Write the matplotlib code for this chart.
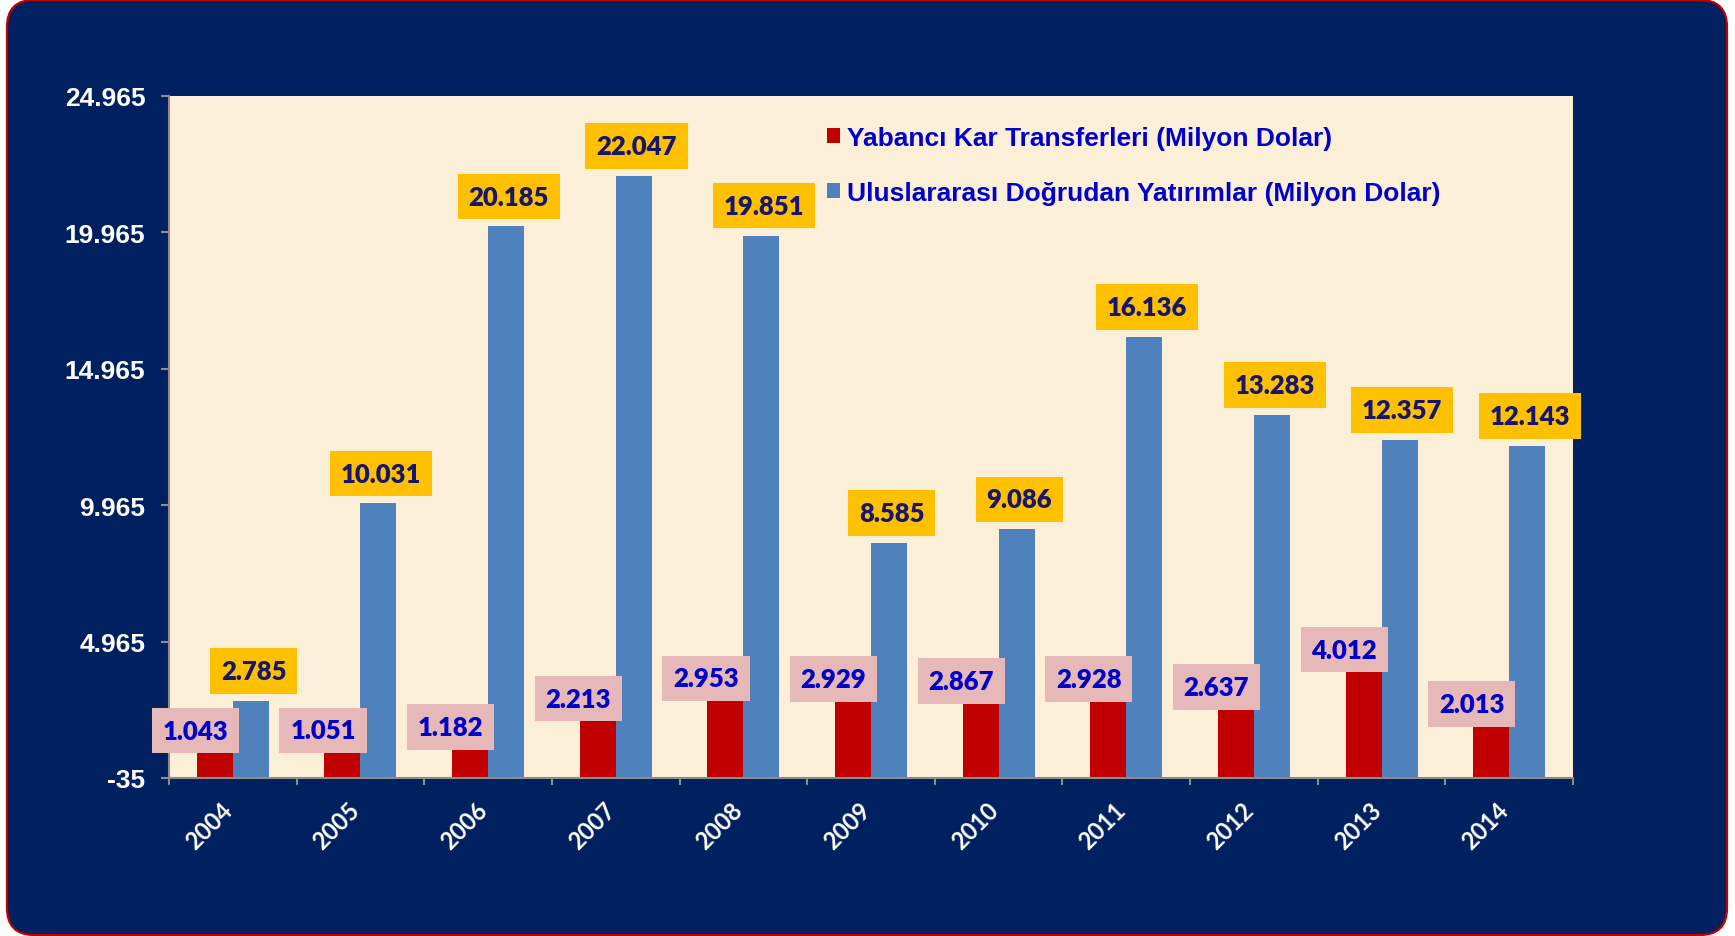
import matplotlib.pyplot as plt
import numpy as np
from matplotlib.patches import FancyBboxPatch, Patch
from matplotlib.ticker import FixedLocator

years = ["2004", "2005", "2006", "2007", "2008", "2009", "2010", "2011", "2012", "2013", "2014"]
kar_transfer = [1043, 1051, 1182, 2213, 2953, 2929, 2867, 2928, 2637, 4012, 2013]
dogrudan_yatirim = [2785, 10031, 20185, 22047, 19851, 8585, 9086, 16136, 13283, 12357, 12143]
y_ticks = [-35, 4965, 9965, 14965, 19965, 24965]
series_names = ["Yabancı Kar Transferleri (Milyon Dolar)",
                "Uluslararası Doğrudan Yatırımlar (Milyon Dolar)"]

NAVY = "#002060"
RED = "#C00000"
BLUE = "#4F81BD"
GOLD = "#FFC000"
PINK = "#E6B9B8"


def tr_fmt(v):
    return f"{v:,}".replace(",", ".")


fig = plt.figure(figsize=(17.35, 9.37), dpi=100)
fig.patch.set_facecolor("white")
# rounded dark blue card with red rim
card = FancyBboxPatch((0.07, 0.01), 17.2, 9.35,
                      boxstyle="round,pad=0,rounding_size=0.27",
                      transform=fig.dpi_scale_trans,
                      facecolor=NAVY, edgecolor=RED, linewidth=1.6, zorder=-5)
fig.patches.append(card)

ax = fig.add_axes([169 / 1735, 1 - 779 / 937, (1573 - 169) / 1735, (779 - 97) / 937])
ax.set_zorder(1)
ax.set_facecolor("#FCEFD8")

x = np.arange(len(years))
w = 0.282
ax.bar(x - w / 2, kar_transfer, w, color=RED, zorder=2)
ax.bar(x + w / 2, dogrudan_yatirim, w, color=BLUE, zorder=2)

ax.set_xlim(-0.5, len(years) - 0.5)
ax.set_ylim(y_ticks[0], y_ticks[-1])

for xi, v in zip(x, dogrudan_yatirim):
    ax.annotate(tr_fmt(v), (xi + w / 2, v), xytext=(2, 21.5), textcoords="offset points",
                ha="center", va="center", fontsize=18.5, fontweight="heavy",
                family="Lato", color="#16166B", zorder=5,
                bbox=dict(boxstyle="square,pad=0.42", facecolor=GOLD, edgecolor="none"))

for xi, v in zip(x, kar_transfer):
    ax.annotate(tr_fmt(v), (xi - w / 2, v), xytext=(-14, 13), textcoords="offset points",
                ha="center", va="center", fontsize=18.5, fontweight="heavy",
                family="Lato", color="#0000CC", zorder=5,
                bbox=dict(boxstyle="square,pad=0.42", facecolor=PINK, edgecolor="none"))

# axes styling
for side in ["top", "right"]:
    ax.spines[side].set_visible(False)
for side in ["left", "bottom"]:
    ax.spines[side].set_color("#8C8C8C")
    ax.spines[side].set_linewidth(1.5)

ax.set_yticks(y_ticks)
ax.set_yticklabels([tr_fmt(t) for t in y_ticks], family="Liberation Sans",
                   fontweight="bold", fontsize=19, color="white")
ax.tick_params(axis="y", direction="out", length=6, width=1.5, color="#8C8C8C", pad=11)

ax.xaxis.set_major_locator(FixedLocator(np.arange(-0.5, len(years))))
ax.xaxis.set_minor_locator(FixedLocator(x + 0.03))
ax.set_xticklabels([], minor=False)
ax.set_xticklabels(years, minor=True, rotation=45, ha="right", va="top",
                   family="Lato", fontweight="bold", fontsize=17, color="white")
ax.tick_params(axis="x", which="major", direction="out", length=5, width=1.5, color="#8C8C8C")
ax.tick_params(axis="x", which="minor", length=0, pad=14)

handles = [Patch(facecolor=RED, edgecolor="none"), Patch(facecolor=BLUE, edgecolor="none")]
leg = ax.legend(handles, series_names, loc="upper left",
                bbox_to_anchor=(827 / 1735, 1 - 127 / 937), bbox_transform=fig.transFigure,
                frameon=False, borderpad=0, borderaxespad=0,
                handlelength=0.5, handleheight=0.5, handletextpad=0.27, labelspacing=1.18,
                prop={"family": "Liberation Sans", "weight": "bold", "size": 19})
for t in leg.get_texts():
    t.set_color("#0000CC")

fig.savefig("out.png", dpi=100, facecolor=fig.get_facecolor())
